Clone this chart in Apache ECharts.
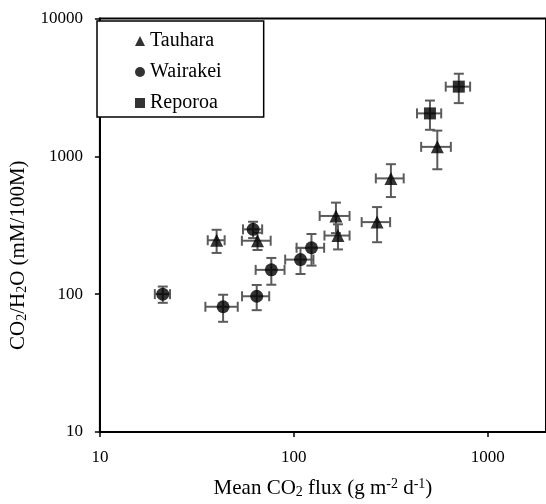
<!DOCTYPE html>
<html>
<head>
<meta charset="utf-8">
<script src="https://cdn.jsdelivr.net/npm/echarts@6/dist/echarts.min.js"></script>
<style>
html,body{margin:0;padding:0;background:#fff;}
#chart{width:546px;height:504px;}
</style>
</head>
<body>
<div id="chart"></div>
<script>
// ---- Data ----
const seriesNames = ['Tauhara', 'Wairakei', 'Reporoa'];

const tauharaFlux     = [40, 65, 165, 169, 269, 317, 550];
const tauharaRatio    = [246, 244, 369, 266, 333, 691, 1170];
const tauharaFluxErr  = [4, 11, 29, 25, 45, 52, 96];
const tauharaRatioErr = [47, 35, 92, 55, 95, 185, 365];

const wairakeiFlux     = [21.1, 43.2, 64.4, 61.7, 76.6, 108.3, 123.4];
const wairakeiRatio    = [100, 81, 96.5, 295, 150, 178, 217];
const wairakeiFluxErr  = [1.9, 8.2, 10.3, 7, 13, 18, 20];
const wairakeiRatioErr = [13.5, 18, 20, 40, 33, 38, 56];

const reporoaFlux     = [504, 710];
const reporoaRatio    = [2046, 3199];
const reporoaFluxErr  = [72, 102];
const reporoaRatioErr = [490, 770];

const xTickLabels = [10, 100, 1000];
const yTickLabels = [10, 100, 1000, 10000];

// ---- Build ----
function pts(xs, ys) { return xs.map((x, i) => [x, ys[i]]); }
function errs(xs, ys, exs, eys) { return xs.map((x, i) => [x, ys[i], exs[i], eys[i]]); }

const serif = 'Liberation Serif, Times New Roman, serif';
const errColor = '#5b5b5b';

function renderErr(params, api) {
  const x = api.value(0), y = api.value(1), ex = api.value(2), ey = api.value(3);
  const c = api.coord([x, y]);
  const l = api.coord([x - ex, y]);
  const r = api.coord([x + ex, y]);
  const t = api.coord([x, y + ey]);
  const b = api.coord([x, y - ey]);
  const cap = 5;
  const style = { stroke: errColor, lineWidth: 2, fill: null };
  const ln = (x1, y1, x2, y2) => ({ type: 'line', shape: { x1, y1, x2, y2 }, style });
  return {
    type: 'group',
    children: [
      ln(l[0], c[1], r[0], c[1]),
      ln(l[0], c[1] - cap, l[0], c[1] + cap),
      ln(r[0], c[1] - cap, r[0], c[1] + cap),
      ln(c[0], t[1], c[0], b[1]),
      ln(c[0] - cap, t[1], c[0] + cap, t[1]),
      ln(c[0] - cap, b[1], c[0] + cap, b[1])
    ]
  };
}

function errSeries(name, data) {
  return {
    name: name + ' error',
    type: 'custom',
    renderItem: renderErr,
    data: data,
    dimensions: ['x', 'y', 'ex', 'ey'],
    encode: { x: 0, y: 1 },
    z: 1,
    silent: true
  };
}

function isTick(v, list) {
  const r = Math.round(v);
  return list.indexOf(r) >= 0 && Math.abs(v - r) < 1e-6;
}

const chart = echarts.init(document.getElementById('chart'), null, { renderer: 'canvas' });

const option = {
  animation: false,
  backgroundColor: '#ffffff',
  grid: {
    left: 90.5,
    top: 18.4,
    right: -9,
    bottom: 62,
    show: true,
    borderColor: '#000',
    borderWidth: 2,
    backgroundColor: 'transparent',
    containLabel: false
  },
  legend: {
    data: seriesNames,
    orient: 'vertical',
    left: 97,
    top: 21,
    padding: [10, 42, 4, 38],
    itemGap: 11,
    itemWidth: 10,
    itemHeight: 10,
    backgroundColor: '#fff',
    borderColor: '#000',
    borderWidth: 1.5,
    textStyle: { fontFamily: serif, fontSize: 20, color: '#000' }
  },
  xAxis: {
    type: 'log',
    logBase: 10,
    min: 10,
    max: 2000,
    splitLine: { show: false },
    axisLine: { lineStyle: { color: '#000', width: 2 } },
    axisTick: { show: true, inside: false, length: 5, lineStyle: { color: '#000', width: 1.5 } },
    minorTick: { show: false },
    axisLabel: {
      margin: 17,
      fontFamily: serif,
      fontSize: 17,
      color: '#000',
      showMaxLabel: false,
      formatter: function (v) { return isTick(v, xTickLabels) ? String(Math.round(v)) : ''; }
    },
    name: 'Mean CO{sub|2} flux (g m{sup|-2} d{sup|-1})',
    nameLocation: 'middle',
    nameGap: 45,
    nameTextStyle: {
      fontFamily: serif,
      fontSize: 21,
      color: '#000',
      rich: {
        sub: { fontFamily: serif, fontSize: 14, color: '#000', verticalAlign: 'bottom', padding: [8, 0, 0, 0] },
        sup: { fontFamily: serif, fontSize: 14, color: '#000', verticalAlign: 'top', padding: [0, 0, 8, 0] }
      }
    }
  },
  yAxis: {
    type: 'log',
    logBase: 10,
    min: 10,
    max: 10000,
    splitLine: { show: false },
    axisLine: { lineStyle: { color: '#000', width: 2 } },
    axisTick: { show: true, inside: false, length: 5, lineStyle: { color: '#000', width: 1.5 } },
    minorTick: { show: false },
    axisLabel: {
      margin: 17,
      fontFamily: serif,
      fontSize: 17,
      color: '#000',
      formatter: function (v) { return isTick(v, yTickLabels) ? String(Math.round(v)) : ''; }
    },
    name: 'CO{sub|2}/H{sub|2}O (mM/100M)',
    nameLocation: 'middle',
    nameGap: 46,
    nameTextStyle: {
      fontFamily: serif,
      fontSize: 21,
      color: '#000',
      padding: [0, 60, 0, 0],
      rich: {
        sub: { fontFamily: serif, fontSize: 14, color: '#000', verticalAlign: 'bottom', padding: [8, 0, 0, 0] }
      }
    }
  },
  series: [
    errSeries('Tauhara', errs(tauharaFlux, tauharaRatio, tauharaFluxErr, tauharaRatioErr)),
    errSeries('Wairakei', errs(wairakeiFlux, wairakeiRatio, wairakeiFluxErr, wairakeiRatioErr)),
    errSeries('Reporoa', errs(reporoaFlux, reporoaRatio, reporoaFluxErr, reporoaRatioErr)),
    {
      name: 'Tauhara', type: 'scatter', symbol: 'triangle', symbolSize: 13,
      itemStyle: { color: '#000' }, data: pts(tauharaFlux, tauharaRatio), z: 3
    },
    {
      name: 'Wairakei', type: 'scatter', symbol: 'circle', symbolSize: 13,
      itemStyle: { color: '#000' }, data: pts(wairakeiFlux, wairakeiRatio), z: 3
    },
    {
      name: 'Reporoa', type: 'scatter', symbol: 'rect', symbolSize: 12,
      itemStyle: { color: '#000' }, data: pts(reporoaFlux, reporoaRatio), z: 3
    }
  ]
};

chart.setOption(option);
</script>
</body>
</html>
